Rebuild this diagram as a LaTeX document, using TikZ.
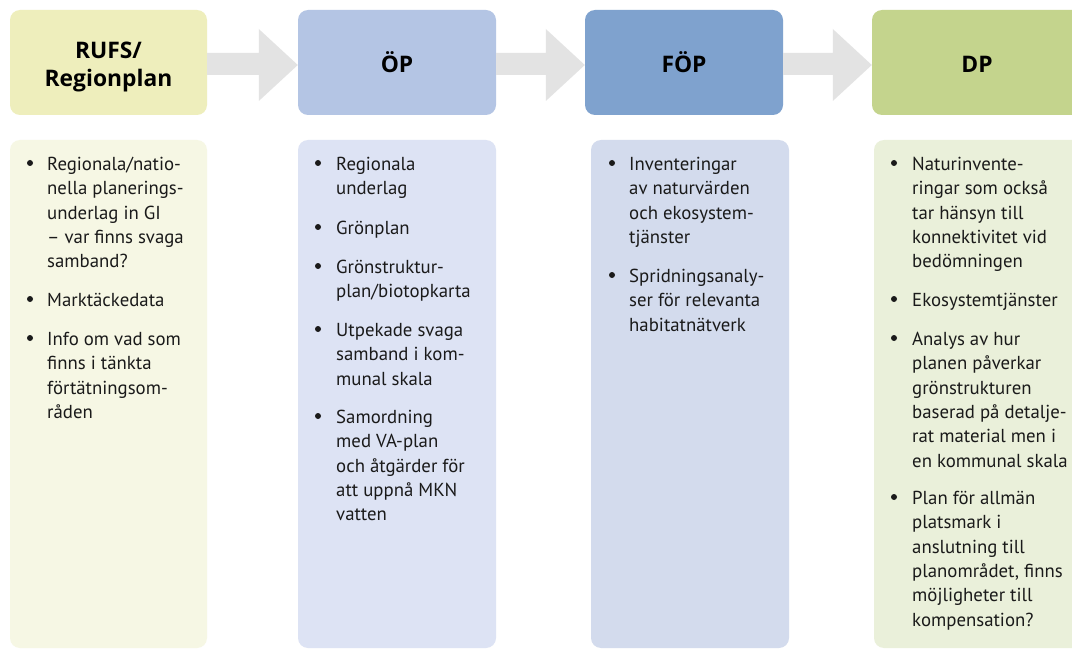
\documentclass[tikz,border=0pt]{standalone}
\usepackage{fontspec}
\setmainfont{PT Sans}
\newfontfamily\hdfont{Open Sans}
\definecolor{hdA}{RGB}{238,238,188}
\definecolor{bdA}{RGB}{246,247,228}
\definecolor{hdB}{RGB}{180,197,228}
\definecolor{bdB}{RGB}{221,227,244}
\definecolor{hdC}{RGB}{127,162,206}
\definecolor{bdC}{RGB}{211,219,237}
\definecolor{hdD}{RGB}{196,212,141}
\definecolor{bdD}{RGB}{234,240,218}
\definecolor{arrc}{RGB}{227,227,227}
\definecolor{txt}{RGB}{26,26,26}
\newcommand\fl{\rule{0pt}{17pt}}
\begin{document}
\begin{tikzpicture}[x=1pt,y=-1pt,
  hdbox/.style={rectangle,rounded corners=10pt,minimum height=105pt,inner sep=0pt},
  hdtext/.style={anchor=base,inner sep=0pt,align=center,text=black,
    font=\hdfont\bfseries\fontsize{22.8}{28}\selectfont},
  bdbox/.style={rectangle,rounded corners=10pt,minimum height=508pt,inner sep=0pt},
  item/.style={anchor=north west,align=left,inner sep=0pt,text=txt,
    font=\fontsize{18.8}{24.4}\selectfont},
  bul/.style={circle,fill=txt,inner sep=0pt,minimum size=6pt},
  arr/.style={fill=arrc}]
\useasboundingbox (0,0) rectangle (1072,650);
\clip (0,0) rectangle (1072,650);
\fill[white] (0,0) rectangle (1072,650);

% header boxes
\node[hdbox,fill=hdA,minimum width=197pt] (h1) at (108.5,62.5) {};
\node[hdbox,fill=hdB,minimum width=198pt] (h2) at (397,62.5) {};
\node[hdbox,fill=hdC,minimum width=198pt] (h3) at (684,62.5) {};
\node[hdbox,fill=hdD,minimum width=210pt] (h4) at (977,62.5) {};
\node[hdtext] (l1) at (108.5,86.2) {RUFS/\\Regionplan};
\node[hdtext] (l2) at (397,72.2) {ÖP};
\node[hdtext] (l3) at (684,72.2) {FÖP};
\node[hdtext] (l4) at (977,72.2) {DP};

% block arrows
\foreach \a/\b in {h1/h2,h2/h3,h3/h4}{
  \fill[arr] ([yshift=9.5pt]\a.east) -- ([xshift=-39pt,yshift=9.5pt]\b.west)
    -- ([xshift=-39pt,yshift=33.5pt]\b.west) -- ([yshift=-2.5pt]\b.west)
    -- ([xshift=-39pt,yshift=-38.5pt]\b.west) -- ([xshift=-39pt,yshift=-12.5pt]\b.west)
    -- ([yshift=-12.5pt]\a.east) -- cycle;
}

% body boxes
\node[bdbox,fill=bdA,minimum width=197pt] (b1) at (108.5,394) {};
\node[bdbox,fill=bdB,minimum width=198pt] (b2) at (397,394) {};
\node[bdbox,fill=bdC,minimum width=198pt] (b3) at (690,394) {};
\node[bdbox,fill=bdD,minimum width=208pt] (b4) at (978,394) {};

% column 1
\node[bul] (u11) at (30,163) {};
\node[item] (t11) at (47,153) {\fl Regionala/natio-\\nella planerings-\\underlag in GI\\– var finns svaga\\samband?};
\node[bul] (u12) at (30,299) {};
\node[item] (t12) at (47,289) {\fl Marktäckedata};
\node[bul] (u13) at (30,338) {};
\node[item] (t13) at (47,328) {\fl Info om vad som\\finns i tänkta\\förtätningsom-\\råden};

% column 2
\node[bul] (u21) at (318,163) {};
\node[item] (t21) at (336,153) {\fl Regionala\\underlag};
\node[bul] (u22) at (318,227) {};
\node[item] (t22) at (336,217) {\fl Grönplan};
\node[bul] (u23) at (318,266) {};
\node[item] (t23) at (336,256) {\fl Grönstruktur-\\plan/biotopkarta};
\node[bul] (u24) at (318,329) {};
\node[item] (t24) at (336,319) {\fl Utpekade svaga\\samband i kom-\\munal skala};
\node[bul] (u25) at (318,416) {};
\node[item] (t25) at (336,406) {\fl Samordning\\med VA-plan\\och åtgärder för\\att uppnå MKN\\vatten};

% column 3
\node[bul] (u31) at (612,163) {};
\node[item] (t31) at (629,153) {\fl Inventeringar\\av naturvärden\\och ekosystem-\\tjänster};
\node[bul] (u32) at (612,275) {};
\node[item] (t32) at (629,265) {\fl Spridningsanaly-\\ser för relevanta\\habitatnätverk};

% column 4
\node[bul] (u41) at (894,163) {};
\node[item] (t41) at (912,153) {\fl Naturinvente-\\ringar som också\\tar hänsyn till\\konnektivitet vid\\bedömningen};
\node[bul] (u42) at (894,299) {};
\node[item] (t42) at (912,289) {\fl Ekosystemtjänster};
\node[bul] (u43) at (894,338) {};
\node[item] (t43) at (912,328) {\fl Analys av hur\\planen påverkar\\grönstrukturen\\baserad på detalje-\\rat material men i\\en kommunal skala};
\node[bul] (u44) at (894,497) {};
\node[item] (t44) at (912,487) {\fl Plan för allmän\\platsmark i\\anslutning till\\planområdet, finns\\möjligheter till\\kompensation?};
\end{tikzpicture}
\end{document}
